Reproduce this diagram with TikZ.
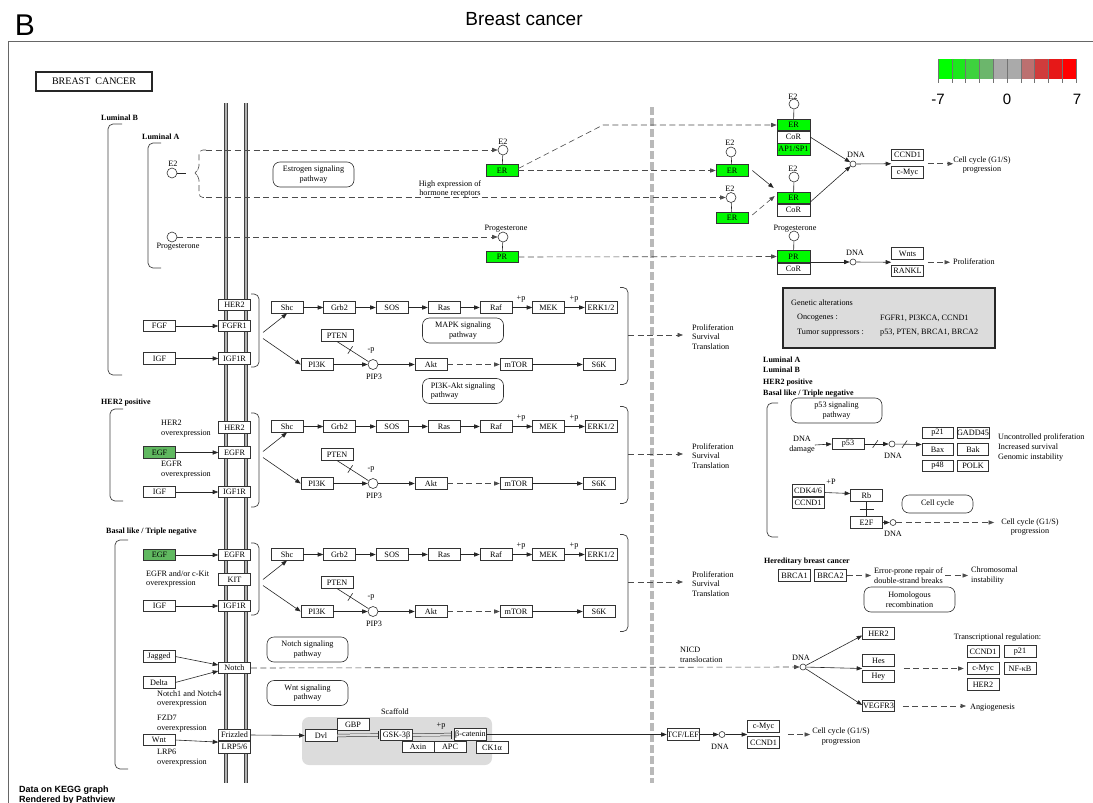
\documentclass[tikz,border=0pt]{standalone}
\usepackage{fontspec}
\setmainfont{Liberation Serif}
\newfontfamily\arialf{Liberation Sans}
\usepackage{tikz}
\usetikzlibrary{arrows.meta,calc}

\definecolor{upA}{RGB}{0,250,0}
\definecolor{upB}{RGB}{96,184,96}
\definecolor{boxgray}{RGB}{220,220,220}
\newcommand{\kfont}{\fontsize{8.2}{9.8}\selectfont}
\newcommand{\kbold}{\fontsize{8}{9.8}\selectfont\bfseries}

\tikzset{
  gene/.style={draw=black!80, fill=white, line width=0.6pt, minimum width=32pt,
    minimum height=11.5pt, inner sep=0pt, font=\kfont},
  upgene/.style={gene, fill=upA},
  midgene/.style={gene, fill=upB},
  cpd/.style={circle, draw=black!80, fill=white, line width=0.6pt, minimum size=10pt, inner sep=0pt},
  dnadot/.style={circle, draw=black!80, fill=white, line width=0.6pt, minimum size=6pt, inner sep=0pt},
  pathw/.style={draw=black!80, rounded corners=7pt, line width=0.6pt, minimum width=81pt,
    minimum height=25pt, align=center, font=\kfont, inner sep=1pt},
  txt/.style={font=\kfont, align=center, inner sep=0pt},
  ltxt/.style={font=\kfont, align=left, inner sep=0pt, anchor=west},
  grp/.style={font=\kbold, inner sep=0pt, anchor=west},
  conn/.style={line width=0.6pt, black!85},
  arr/.style={conn, -{Triangle[length=5.5pt,width=4.2pt]}},
  darr/.style={arr, dash pattern=on 6pt off 3.5pt, black!70},
  dline/.style={conn, dash pattern=on 6pt off 3.5pt, black!70},
  inh/.style={conn, -{Bar[width=8pt]}},
  dblinh/.style={line width=0.5pt, black!80, double=boxgray, double distance=2.2pt},
  tick/.style={draw=black!85, line width=0.6pt, minimum width=0pt, minimum height=9pt, inner sep=0pt},
  brk/.style={line width=0.7pt, black!75, rounded corners=5pt},
  membrane/.style={draw=black!75, double=gray!60, line width=0.8pt, double distance=1.6pt},
}

\begin{document}
\begin{tikzpicture}[x=1pt,y=-1pt]
\useasboundingbox (0,0) rectangle (1093,803);
% Heading and frame
\node[inner sep=0pt, font=\arialf\fontsize{30}{30}\selectfont] (panel) at (25,25) {B};
\node[inner sep=0pt, font=\arialf\fontsize{19}{19}\selectfont] (title) at (524,19.5) {Breast cancer};
\draw[black!60, line width=0.9pt] (8,803) -- (8,41) -- (1093,41);
\node[draw=black!85, line width=1.1pt, minimum width=116pt, minimum height=19pt, inner sep=0pt,
  font=\fontsize{10}{10}\selectfont] (bcbox) at (94,81.5) {BREAST\ \ CANCER};
% Colour key
\foreach \cr/\cg/\cb [count=\i from 0] in {0/255/0, 28/232/28, 62/210/62, 108/182/108, 170/170/170,
    170/170/170, 188/112/112, 208/60/60, 230/24/24, 255/0/0}
  \fill[color={rgb,255:red,\cr; green,\cg; blue,\cb}] (938+13.8*\i,59) rectangle ++(13.8,20);
\foreach \i in {0,...,10}
  \draw[black!55, line width=0.5pt] (938+13.8*\i,59) -- ++(0,24);
\node[inner sep=0pt, font=\arialf\fontsize{15}{15}\selectfont] (keylo) at (938,99) {-7};
\node[inner sep=0pt, font=\arialf\fontsize{15}{15}\selectfont] (keymid) at (1007,99) {0};
\node[inner sep=0pt, font=\arialf\fontsize{15}{15}\selectfont] (keyhi) at (1077,99) {7};

% Membrane and nucleus border
\draw[membrane] (226,103) -- (226,783);
\draw[membrane] (246,103) -- (246,783);
\draw[gray!55, line width=3.5pt, dash pattern=on 8pt off 3pt] (652,107) -- (652,783);

% Luminal A / Luminal B
\node[grp] (lumB) at (101,118) {Luminal B};
\draw[brk] (122,124) -| (108,375) -- (122,375);
\node[grp] (lumA) at (142,137) {Luminal A};
\draw[brk] (161,143) -| (148,268) -- (161,268);
\node[cpd] (e2a) at (172,173) {};
\node[txt] (e2aL) at (173,163.5) {E2};
\node[cpd] (pga) at (172,237) {};
\node[txt] (pgaL) at (178,246.5) {Progesterone};
\node[pathw] (estpw) at (313.5,174.5) {Estrogen signaling\\pathway};
\coordinate (brTop) at (206,150);
\coordinate (brBot) at (206,197.5);
\draw[conn] (e2a.east) -- (186,173);
\draw[dline, rounded corners=4pt] (brTop) -| (199,170) -- (193,173) -- (199,176) |- (brBot);
% Estrogen receptor
\node[cpd] (e2b) at (503,150) {};
\node[txt] (e2bL) at (503,141.5) {E2};
\node[upgene] (er1) at (502,170.5) {ER};
\draw[conn] (e2b) -- (er1);
\node[txt] (hiexp) at (450,189) {High expression of\\hormone receptors};
\node[cpd] (pgb) at (503,237) {};
\node[txt] (pgbL) at (506,229) {Progesterone};
\node[upgene] (pr1) at (502,257) {PR};
\draw[conn] (pgb) -- (pr1);
\draw[darr] (brTop) -- (e2b.west);
\draw[darr] (pga) -- (pgb);
\node[cpd] (e2c) at (731,152) {};
\node[txt] (e2cL) at (730,143) {E2};
\node[upgene] (er2) at (732,170.5) {ER};
\draw[conn] (e2c) -- (er2);
\node[cpd] (e2d) at (731,197.5) {};
\node[txt] (e2dL) at (730,188.5) {E2};
\node[upgene] (er3) at (732,218) {ER};
\draw[conn] (e2d) -- (er3);
\draw[darr] (brBot) -- (e2d.west);
% Nuclear complexes
\node[cpd] (e2e) at (794,104) {};
\node[txt] (e2eL) at (793,96.5) {E2};
\node[upgene, minimum width=33pt] (er4) at (793.5,125) {ER};
\node[gene, minimum width=33pt, anchor=north] (cor1) at (er4.south) {CoR};
\node[upgene, minimum width=33pt, anchor=north] (ap1) at (cor1.south) {AP1/SP1};
\draw[conn] (e2e) -- (er4);
\node[cpd] (e2f) at (794,177) {};
\node[txt] (e2fL) at (793,168.5) {E2};
\node[upgene, minimum width=33pt] (er5) at (793.5,198) {ER};
\node[gene, minimum width=33pt, anchor=north] (cor2) at (er5.south) {CoR};
\draw[conn] (e2f) -- (er5);
\node[cpd] (pgc) at (794,236) {};
\node[txt] (pgcL) at (795,229) {Progesterone};
\node[upgene, minimum width=33pt] (pr2) at (793.5,256.5) {PR};
\node[gene, minimum width=33pt, anchor=north] (cor3) at (pr2.south) {CoR};
\draw[conn] (pgc) -- (pr2);
\coordinate (erbend) at (603,125);
\draw[darr] ([yshift=2pt]er1.east) -- (erbend) -- (er4.west);
\draw[darr] (er1.east) -- (er2.west);
\draw[darr] (pr1.east) -- (pr2.west);
\draw[arr] ([xshift=4pt]er2.east) -- ([shift={(-3pt,4pt)}]er5.north west);
\draw[darr] ([shift={(4pt,3pt)}]er3.east) -- ([shift={(-2pt,2pt)}]er5.west);
% Targets in the nucleus
\node[dnadot] (dna1) at (853,164) {};
\node[txt] (dna1L) at (856,155) {DNA};
\node[gene] (ccnd1a) at (907.5,155) {CCND1};
\node[gene] (cmyca) at (907.5,172.5) {c-Myc};
\coordinate (gap1) at ($(ccnd1a.south west)!0.5!(cmyca.north west)$);
\coordinate (gap1r) at ($(ccnd1a.south east)!0.5!(cmyca.north east)$);
\node[txt] (cc1) at (982,165) {Cell cycle (G1/S)\\progression};
\draw[arr] (cor1.east) -- (dna1);
\draw[arr] ([yshift=-4pt]er5.east) -- (dna1);
\draw[arr] (dna1) -- (gap1);
\draw[darr, shorten <=4pt] (gap1r) -- (gap1r -| cc1.west);
\node[dnadot] (dna2) at (853,262) {};
\node[txt] (dna2L) at (855,252.5) {DNA};
\node[gene] (wnts) at (907.5,253.5) {Wnts};
\node[gene] (rankl) at (907.5,271) {RANKL};
\coordinate (gap2) at ($(wnts.south west)!0.5!(rankl.north west)$);
\coordinate (gap2r) at ($(wnts.south east)!0.5!(rankl.north east)$);
\node[ltxt] (prolif1) at (953,262) {Proliferation};
\draw[arr] ([yshift=-5.5pt]pr2.east) -- (dna2);
\draw[arr] (dna2) -- (gap2);
\draw[darr, shorten <=4pt, shorten >=3pt] (gap2r) -- (gap2r -| prolif1.west);

% Receptors: Luminal B
\node[gene] (her2a) at (234.5,305) {HER2};
\node[gene] (fgfr1) at (234.5,326) {FGFR1};
\node[gene] (igf1ra) at (234.5,358.5) {IGF1R};
\node[gene] (fgf) at (159.5,326) {FGF};
\node[gene] (igfa) at (159.5,358.5) {IGF};
\draw[arr] (fgf) -- (fgfr1);
\draw[arr] (igfa) -- (igf1ra);
\draw[brk] (251,294) -| (259,367) -- (251,367);
\node[pathw] (mapkpw) at (463,330.5) {MAPK signaling\\pathway};
\node[pathw, align=left] (pi3kpw) at (463,391) {PI3K-Akt signaling\\pathway};

% Receptors: HER2 positive
\node[grp] (her2pos) at (101,403) {HER2 positive};
\draw[brk] (123,409) -| (110,501) -- (123,501);
\node[gene] (her2b) at (234.5,427.5) {HER2};
\node[gene] (egfrb) at (234.5,452.5) {EGFR};
\node[gene] (igf1rb) at (234.5,492) {IGF1R};
\node[midgene] (egfb) at (159.5,452.5) {EGF};
\node[gene] (igfb) at (159.5,492) {IGF};
\node[ltxt] (her2ox) at (161,429) {HER2\\overexpression};
\node[ltxt] (egfrox) at (161,470) {EGFR\\overexpression};
\draw[arr] (egfb) -- (egfrb);
\draw[arr] (igfb) -- (igf1rb);
\draw[brk] (251,413) -| (259,507) -- (251,507);

% Receptors: Basal like
\node[grp] (basal) at (106,532) {Basal like / Triple negative};
\draw[brk] (128,540) -| (115,769) -- (128,769);
\node[midgene] (egfc) at (159.5,555) {EGF};
\node[gene] (egfrc) at (234.5,555) {EGFR};
\node[gene] (kit) at (234.5,579.5) {KIT};
\node[gene] (igf1rc) at (234.5,606) {IGF1R};
\node[gene] (igfc) at (159.5,606) {IGF};
\node[ltxt] (kitox) at (146,579) {EGFR and/or c-Kit\\overexpression};
\draw[arr] (egfc) -- (egfrc);
\draw[arr] (igfc) -- (igf1rc);
\draw[brk] (251,543) -| (259,615) -- (251,615);

% Signalling cascades, one per subtype
\foreach \r/\yy in {a/307.5, b/426.5, c/554.5}{
  \coordinate (bs\r) at (263,\yy+25);
  \coordinate (bp\r) at (263,\yy+31);
  \node[gene] (shc\r) at (287,\yy) {Shc};
  \node[gene] (grb\r) at (339.5,\yy) {Grb2};
  \node[gene] (sos\r) at (392,\yy) {SOS};
  \node[gene] (ras\r) at (444,\yy) {Ras};
  \node[gene] (raf\r) at (496,\yy) {Raf};
  \node[gene] (mek\r) at (548.5,\yy) {MEK};
  \node[gene] (erk\r) at (601,\yy) {ERK1/2};
  \node[txt] (pa\r) at (521,\yy-8) {+p};
  \node[txt] (pb\r) at (574,\yy-8) {+p};
  \node[gene] (pten\r) at (337,\yy+28) {PTEN};
  \node[gene] (pik\r) at (317,\yy+57) {PI3K};
  \node[cpd] (pip\r) at (373,\yy+57) {};
  \node[txt] (pipL\r) at (374,\yy+69) {PIP3};
  \node[txt] (pm\r) at (371,\yy+43) {-p};
  \node[gene] (akt\r) at (431,\yy+57) {Akt};
  \node[gene] (mtor\r) at (516,\yy+57) {mTOR};
  \node[gene] (sk\r) at (599,\yy+57) {S6K};
  \draw[arr] (bs\r) -- (shc\r.south);
  \draw[arr] (bp\r) -- (pik\r.west);
  \draw[arr] (shc\r) -- (grb\r);
  \draw[arr] (grb\r) -- (sos\r);
  \draw[arr] (sos\r) -- (ras\r);
  \draw[arr] (ras\r) -- (raf\r);
  \draw[arr] (raf\r) -- (mek\r);
  \draw[arr] (mek\r) -- (erk\r);
  \draw[conn] (pten\r.south) -- (pip\r) node[tick, pos=0.42, sloped] (tk\r) {};
  \draw[arr] (pik\r) -- (pip\r);
  \draw[arr] (pip\r) -- (akt\r);
  \draw[darr] (akt\r) -- (mtor\r);
  \draw[arr] (mtor\r) -- (sk\r);
  \draw[brk] (620,\yy-20) -| (628,\yy+77) -- (620,\yy+77);
  \coordinate (bo\r) at (628,\yy+27.5);
  \node[ltxt] (out\r) at (692,\yy+29.5) {Proliferation\\Survival\\Translation};
  \draw[darr, shorten >=9pt] (bo\r) -- (bo\r -| out\r.west);
}

% Notch
\node[pathw] (notchpw) at (307.5,649.5) {Notch signaling\\pathway};
\node[gene] (jagged) at (159,656.5) {Jagged};
\node[gene] (delta) at (159,682.5) {Delta};
\node[gene] (notch) at (234.5,668) {Notch};
\node[ltxt] (notchox) at (157,699) {Notch1 and Notch4\\overexpression};
\draw[arr] (jagged.east) -- ([yshift=3pt]notch.west);
\draw[arr] (delta.east) -- ([yshift=-3pt]notch.west);
\node[dnadot] (dna3) at (803,667) {};
\node[txt] (dna3L) at (801,658) {DNA};
\node[ltxt] (nicd) at (680,655) {NICD\\translocation};
\draw[darr] (notch.east) -- (dna3.west);
\node[gene] (her2c) at (878.5,633.5) {HER2};
\node[gene] (hes) at (878.5,660.5) {Hes};
\node[gene] (hey) at (878.5,676.5) {Hey};
\node[gene] (vegfr3) at (878.5,706) {VEGFR3};
\coordinate (gap3) at ($(hes.south west)!0.5!(hey.north west)$);
\coordinate (gap3r) at ($(hes.south east)!0.5!(hey.north east)$);
\draw[arr] (dna3) -- ([yshift=-2pt]her2c.west);
\draw[arr] (dna3) -- (gap3);
\draw[arr] (dna3) -- ([yshift=1pt]vegfr3.west);
\node[txt] (treg) at (997.5,638) {Transcriptional regulation:};
\node[gene] (ccnd1b) at (983,651.5) {CCND1};
\node[gene] (p21b) at (1020,651.5) {p21};
\node[gene] (cmycb) at (983,668.5) {c-Myc};
\node[gene] (nfkb) at (1020,668.5) {NF-κB};
\node[gene] (her2d) at (983,684.5) {HER2};
\draw[darr, shorten <=9pt, shorten >=3pt] (gap3r) -- (gap3r -| cmycb.west);
\node[ltxt] (angio) at (970,708) {Angiogenesis};
\draw[darr, shorten <=8pt, shorten >=4pt] (vegfr3.east) -- (vegfr3.east -| angio.west);

% Wnt
\node[pathw] (wntpw) at (307.5,693) {Wnt signaling\\pathway};
\node[ltxt] (fzdox) at (157,723.5) {FZD7\\overexpression};
\node[gene] (wnt) at (159,740) {Wnt};
\node[gene] (frizzled) at (234.5,735) {Frizzled};
\node[gene, anchor=north] (lrp) at (frizzled.south) {LRP5/6};
\node[ltxt] (lrpox) at (157,757.5) {LRP6\\overexpression};
\draw[arr] (wnt.east) -- ([yshift=5pt]lrp.west);
\node[fill=boxgray, rounded corners=7pt, minimum width=190pt, minimum height=48pt, inner sep=0pt] (scaf) at (397,741) {};
\node[txt] (scafL) at (395,712) {Scaffold};
\node[gene] (dvl) at (321,735.5) {Dvl};
\node[gene] (gbp) at (353,724.5) {GBP};
\node[gene] (gsk) at (396.5,735) {GSK-3β};
\node[gene] (bcat) at (470.5,734.5) {β-catenin};
\node[gene] (axin) at (418,747) {Axin};
\node[gene] (apc) at (450,747) {APC};
\node[gene] (ck1a) at (492,747.5) {CK1α};
\node[txt] (gskp) at (441,726) {+p};
\draw[arr] (frizzled.east) -- (dvl.west);
\coordinate (dvlbar) at ([xshift=-2pt]gsk.west);
\coordinate (gskbar) at ([xshift=-3pt]bcat.west);
\draw[dblinh] (dvl.east) -- (dvlbar);
\draw[conn] ([yshift=4pt]dvlbar) -- ([yshift=-4pt]dvlbar);
\draw[dblinh] (gsk.east) -- (gskbar);
\draw[conn] ([yshift=4pt]gskbar) -- ([yshift=-4pt]gskbar);
\node[gene] (tcf) at (683,734.5) {TCF/LEF};
\draw[arr] (bcat.east) -- (tcf.west);
\node[dnadot] (dna4) at (722,734.5) {};
\node[txt] (dna4L) at (720,747) {DNA};
\draw[arr] (tcf) -- (dna4);
\node[gene] (cmycc) at (763.5,726.5) {c-Myc};
\node[gene] (ccnd1c) at (763.5,742.5) {CCND1};
\coordinate (gap4) at ($(cmycc.south west)!0.5!(ccnd1c.north west)$);
\coordinate (gap4r) at ($(cmycc.south east)!0.5!(ccnd1c.north east)$);
\draw[arr] (dna4) -- (gap4);
\node[txt] (cc3) at (841,736.5) {Cell cycle (G1/S)\\progression};
\draw[darr, shorten <=8pt, shorten >=2pt] (gap4r) -- (gap4r -| cc3.west);

% Genetic alterations
\node[draw=black!85, line width=1.2pt, fill=boxgray, minimum width=212pt, minimum height=60pt, inner sep=0pt] (genalt) at (889,318) {};
\node[ltxt] (genaltT) at (791,303) {Genetic alterations};
\node[ltxt] (oncT) at (797,318) {Oncogenes :};
\node[ltxt] (oncG) at (880,318) {FGFR1, PI3KCA, CCND1};
\node[ltxt] (tsT) at (797,333) {Tumor suppressors :};
\node[ltxt] (tsG) at (880,333) {p53, PTEN, BRCA1, BRCA2};

% All subtypes: p53 and Rb
\node[grp] (allA) at (763,359.5) {Luminal A};
\node[grp] (allB) at (763,369.5) {Luminal B};
\node[grp] (allH) at (763,383) {HER2 positive};
\node[grp] (allT) at (763,393.5) {Basal like / Triple negative};
\draw[brk] (778,403) -| (767,537) -- (778,537);
\node[pathw, minimum width=91pt] (p53pw) at (836.5,410.5) {p53 signaling\\pathway};
\node[txt] (dnadmg) at (802,445) {DNA\\damage};
\node[gene] (p53) at (848,444) {p53};
\node[dnadot] (dna5) at (892,444) {};
\node[txt] (dna5L) at (893,455.5) {DNA};
\node[gene, minimum width=31pt] (p21c) at (937.5,433) {p21};
\node[gene, minimum width=31pt] (gadd) at (973,433) {GADD45};
\node[gene, minimum width=31pt] (bax) at (937.5,449.5) {Bax};
\node[gene, minimum width=31pt] (bak) at (973,449.5) {Bak};
\node[gene, minimum width=31pt] (p48) at (937.5,466) {p48};
\node[gene, minimum width=31pt] (polk) at (973,466) {POLK};
\node[ltxt] (uncon) at (998,447.5) {Uncontrolled proliferation\\Increased survival\\Genomic instability};
\draw[arr] (dnadmg.east) -- (p53.west);
\draw[arr] (p53.east) -- (dna5) node[tick, pos=0.45, rotate=-35] (sl1) {};
\draw[arr] (dna5) -- ([yshift=5pt]bax.west) node[tick, pos=0.35, rotate=-35] (sl2) {};
\node[gene] (cdk46) at (808,490.5) {CDK4/6};
\node[gene, anchor=north] (ccnd1d) at (cdk46.south) {CCND1};
\node[gene] (rb) at (866.5,495.5) {Rb};
\node[gene] (e2f) at (866.5,522.5) {E2F};
\node[txt] (cdkp) at (831,481.5) {+P};
\draw[arr] ([yshift=-2pt]cdk46.east) -- ([yshift=2pt]rb.west);
\draw[conn] (rb.south) -- (e2f.north) ($(rb.south)!0.5!(e2f.north)$) +(-7,0) -- +(7,0);
\node[pathw, minimum width=71pt, minimum height=18pt] (ccpw) at (937.5,504) {Cell cycle};
\node[dnadot] (dna6) at (893,522.5) {};
\node[txt] (dna6L) at (893,533.5) {DNA};
\node[txt] (cc2) at (1030,527) {Cell cycle (G1/S)\\progression};
\draw[arr] (e2f) -- (dna6);
\draw[darr, shorten >=7pt] (dna6) -- (dna6 -| cc2.west);

% Hereditary breast cancer
\node[grp] (hered) at (764,562) {Hereditary breast cancer};
\node[gene] (brca1) at (794.5,575.5) {BRCA1};
\node[gene] (brca2) at (830.5,575.5) {BRCA2};
\node[txt] (errprone) at (908.5,575.5) {Error-prone repair of\\double-strand breaks};
\node[ltxt] (chromo) at (971,575.5) {Chromosomal\\instability};
\node[pathw, minimum width=91pt] (homrec) at (909.5,599.5) {Homologous\\recombination};
\draw[darr, shorten >=3pt] (brca2.east) -- (errprone.west);
\draw[darr, shorten <=2pt, shorten >=3pt] (errprone.east) -- (chromo.west);

% Footer
\node[anchor=west, inner sep=0pt, font=\arialf\bfseries\fontsize{9}{9}\selectfont] (foot1) at (19,790) {Data on KEGG graph};
\node[anchor=west, inner sep=0pt, font=\arialf\bfseries\fontsize{9}{9}\selectfont] (foot2) at (19,800.5) {Rendered by Pathview};
\end{tikzpicture}
\end{document}
